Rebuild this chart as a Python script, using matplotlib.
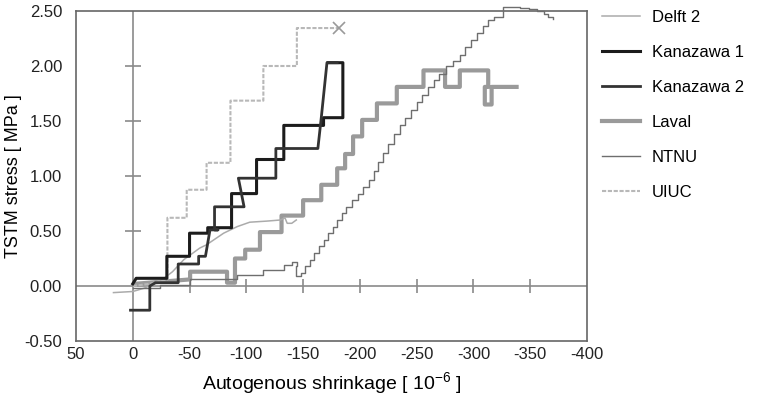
import matplotlib
matplotlib.use("Agg")
import matplotlib.pyplot as plt
import numpy as np

plt.rcParams['font.family'] = ['Liberation Sans', 'DejaVu Sans']
plt.rcParams['mathtext.default'] = 'regular'

# Delft 2
delft_x = [17, 0, -10, -25, -35, -45, -59, -65, -80, -92, -103, -118, -130, -134, -136, -140, -144]
delft_y = [-0.06, -0.05, -0.02, 0.05, 0.13, 0.24, 0.345, 0.375, 0.48, 0.54, 0.58, 0.59, 0.60, 0.62, 0.57, 0.57, 0.60]

# Kanazawa 1
kan1_x = [0, -3, -30, -30, -50, -50, -66, -66, -87, -87, -109, -109, -133, -133, -168, -168, -185, -185, -172]
kan1_y = [0.02, 0.07, 0.07, 0.27, 0.27, 0.48, 0.48, 0.53, 0.53, 0.84, 0.84, 1.15, 1.15, 1.46, 1.46, 1.53, 1.53, 2.03, 2.03]

# Kanazawa 2
kan2_x = [2, -15, -15, -20, -40, -40, -58, -58, -64, -68, -75, -72, -72, -98, -93, -126, -126, -163, -166, -171, -180]
kan2_y = [-0.22, -0.22, 0.0, 0.03, 0.03, 0.20, 0.20, 0.27, 0.27, 0.51, 0.51, 0.51, 0.72, 0.72, 0.98, 0.98, 1.25, 1.25, 1.53, 2.03, 2.03]

# Laval
laval_x = [-2, -50.5, -50.5, -83, -83, -90, -90, -99, -99, -112, -112, -131, -131, -150, -150, -166, -166,
           -180, -180, -187, -187, -194, -194, -202, -202, -215, -215, -232.5, -232.5, -256, -256, -275, -275,
           -288, -288, -313, -313, -310, -310, -316, -316, -338]
laval_y = [0.02, 0.06, 0.13, 0.13, 0.03, 0.03, 0.25, 0.25, 0.33, 0.33, 0.49, 0.49, 0.64, 0.64, 0.78, 0.78, 0.92,
           0.92, 1.07, 1.07, 1.20, 1.20, 1.36, 1.36, 1.51, 1.51, 1.66, 1.66, 1.81, 1.81, 1.96, 1.96, 1.81,
           1.81, 1.96, 1.96, 1.81, 1.81, 1.65, 1.65, 1.81, 1.81]

# NTNU
ntnu_x = [0, -24, -50, -92, -115, -133, -140, -145, -144, -148, -152, -156, -160, -164, -168, -172, -176, -180,
          -184, -188, -193, -198, -203, -208, -212, -216, -220, -225, -230, -235, -240, -245, -250, -255, -260,
          -265, -270, -276, -282, -288, -293, -298, -303, -308, -313, -318, -325, -326, -334, -341, -349, -356,
          -362, -366, -370]
ntnu_y = [-0.015, 0.01, 0.06, 0.10, 0.15, 0.19, 0.22, 0.18, 0.09, 0.12, 0.18, 0.24, 0.30, 0.36, 0.42, 0.48, 0.54,
          0.60, 0.66, 0.72, 0.78, 0.84, 0.90, 0.96, 1.05, 1.13, 1.21, 1.29, 1.38, 1.46, 1.53, 1.60, 1.67, 1.74,
          1.81, 1.87, 1.93, 2.00, 2.05, 2.10, 2.17, 2.24, 2.30, 2.36, 2.42, 2.45, 2.45, 2.54, 2.54, 2.53, 2.52,
          2.50, 2.47, 2.45, 2.43]

# UIUC
uiuc_x = [0, -15, -25, -30.5, -30.5, -47.5, -47.5, -65, -65, -86, -86, -115, -115, -144.5, -144.5, -182]
uiuc_y = [0.0, 0.02, 0.05, 0.06, 0.62, 0.62, 0.875, 0.875, 1.12, 1.12, 1.685, 1.685, 2.0, 2.0, 2.345, 2.345]

x_ticks = [50, 0, -50, -100, -150, -200, -250, -300, -350, -400]
y_ticks = [-0.5, 0.0, 0.5, 1.0, 1.5, 2.0, 2.5]

fig = plt.figure(figsize=(7.64, 4.01), dpi=100)
ax = fig.add_axes([76/764, 60/401, 511/764, 330/401])

# crosshair through the origin with small ticks
ax.axhline(0, color='#8a8a8a', lw=1.2, zorder=1)
ax.axvline(0, color='#8a8a8a', lw=1.2, zorder=1)
ax.plot(x_ticks[2:-1], [0]*len(x_ticks[2:-1]), ls='none', marker='|', ms=10, mew=1.2, color='#8a8a8a', zorder=1)
ax.plot([0]*4, y_ticks[2:6], ls='none', marker='_', ms=12, mew=1.2, color='#8a8a8a', zorder=1)

ax.plot(delft_x, delft_y, color='#ababab', lw=1.1, label='Delft 2', zorder=3)
ax.plot(kan1_x, kan1_y, color='#1c1c1c', lw=2.2, label='Kanazawa 1', zorder=4)
ax.plot(kan2_x, kan2_y, color='#333333', lw=2.0, label='Kanazawa 2', zorder=4)
ax.plot(laval_x, laval_y, color='#9a9a9a', lw=3, label='Laval', zorder=2)
ax.plot(ntnu_x, ntnu_y, color='#6e6e6e', lw=1.0, drawstyle='steps-post', label='NTNU', zorder=3, clip_on=False)
ax.plot(uiuc_x, uiuc_y, color='#b8b8b8', lw=1.5, ls=(0, (2, 0.8)), label='UIUC', zorder=3)
ax.plot(uiuc_x[-1], uiuc_y[-1], marker='x', ms=8, mew=1.2, color='#9a9a9a', zorder=3)

ax.set_xlim(50, -400)
ax.set_ylim(-0.5, 2.5)
ax.set_xticks(x_ticks)
ax.set_xticklabels([str(v) for v in x_ticks])
ax.set_yticks(y_ticks)
ax.set_yticklabels(['%.2f' % v for v in y_ticks])
ax.tick_params(length=0, labelsize=12, colors='#222222')
ax.tick_params(axis='y', pad=10)
ax.tick_params(axis='x', pad=4)
for s in ax.spines.values():
    s.set_color('#666666')
    s.set_linewidth(1.2)

ax.set_xlabel('Autogenous shrinkage [ 10$^{-6}$ ]', fontsize=14, labelpad=6)
ax.set_ylabel('TSTM stress [ MPa ]', fontsize=13, labelpad=2)

leg = ax.legend(loc='upper left', bbox_to_anchor=(0.768, 1.012), bbox_transform=fig.transFigure,
                frameon=False, fontsize=12, handlelength=2.3, labelspacing=1.2, handletextpad=0.7)

fig.savefig('out.png', dpi=100)
